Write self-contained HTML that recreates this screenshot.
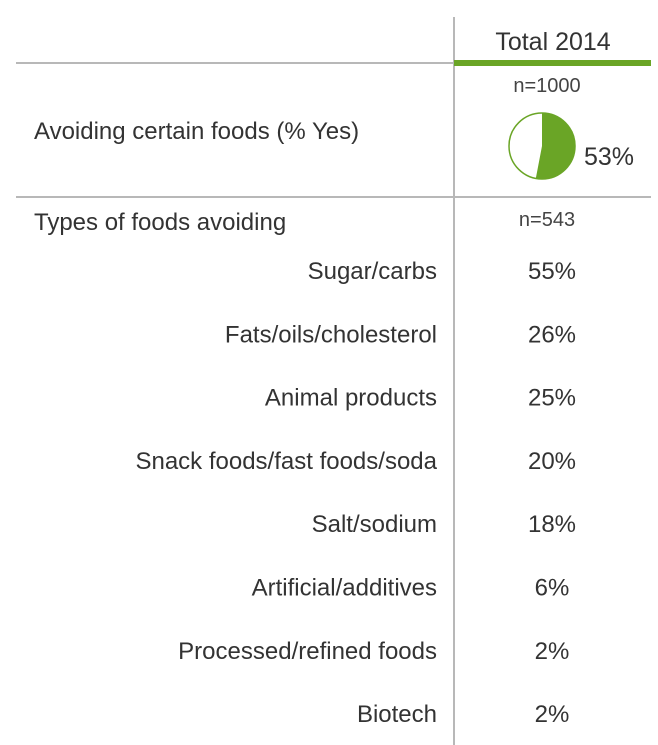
<!DOCTYPE html>
<html><head><meta charset="utf-8"><style>
html,body{margin:0;padding:0;background:#fff;}
svg{display:block;font-family:"Liberation Sans",Arial,sans-serif;}
</style></head><body>
<svg id="chart" width="658" height="745" viewBox="0 0 658 745">
  <line x1="454" y1="17" x2="454" y2="745" stroke="#b8b8b8" stroke-width="2"/>
  <line x1="16" y1="63" x2="454" y2="63" stroke="#b8b8b8" stroke-width="2"/>
  <rect x="454" y="60" width="197" height="6" fill="#6aa526"/>
  <line x1="16" y1="197" x2="651" y2="197" stroke="#b8b8b8" stroke-width="2"/>
  <text x="553" y="50" font-size="25" text-anchor="middle" fill="#333">Total 2014</text>
  <text x="547" y="92" font-size="20" text-anchor="middle" fill="#444">n=1000</text>
  <text x="34" y="139" font-size="24" fill="#333">Avoiding certain foods (% Yes)</text>
  <g id="pie"></g>
  <text id="pieLabel" x="584" y="165" font-size="25" fill="#333"></text>
  <text x="34" y="230" font-size="24" fill="#333">Types of foods avoiding</text>
  <text x="547" y="226" font-size="20" text-anchor="middle" fill="#444">n=543</text>
  <g id="rows"></g>
</svg>
<script>
const pieValue = 53;
const categories = ["Sugar/carbs","Fats/oils/cholesterol","Animal products","Snack foods/fast foods/soda","Salt/sodium","Artificial/additives","Processed/refined foods","Biotech"];
const values = [55,26,25,20,18,6,2,2];

const NS = "http://www.w3.org/2000/svg";
const cx = 542, cy = 146, r = 33;
const pie = document.getElementById('pie');
const circ = document.createElementNS(NS,'circle');
circ.setAttribute('cx',cx);circ.setAttribute('cy',cy);circ.setAttribute('r',r);
circ.setAttribute('fill','#fff');circ.setAttribute('stroke','#6aa526');circ.setAttribute('stroke-width','1.5');


pie.appendChild(circ);
const ang = pieValue/100*2*Math.PI;
const ex = cx + r*Math.sin(ang), ey = cy - r*Math.cos(ang);
const slice = document.createElementNS(NS,'path');
slice.setAttribute('d',`M${cx},${cy} L${cx},${cy-r} A${r},${r} 0 ${pieValue>50?1:0} 1 ${ex},${ey} Z`);
slice.setAttribute('fill','#6aa526');


pie.appendChild(slice);
document.getElementById('pieLabel').textContent = pieValue + '%';

const rows = document.getElementById('rows');
const y0 = 279, step = 63.3;
categories.forEach((c,i)=>{
  const y = y0 + i*step;
  const t = document.createElementNS(NS,'text');
  t.setAttribute('x',437);t.setAttribute('y',y);t.setAttribute('font-size','24');
  t.setAttribute('text-anchor','end');t.setAttribute('fill','#333');
  
  
  t.textContent = c;
  rows.appendChild(t);
  const v = document.createElementNS(NS,'text');
  v.setAttribute('x',552);v.setAttribute('y',y);v.setAttribute('font-size','24');
  v.setAttribute('text-anchor','middle');v.setAttribute('fill','#333');
  
  
  v.textContent = values[i] + '%';
  rows.appendChild(v);
});
</script>
</body></html>
